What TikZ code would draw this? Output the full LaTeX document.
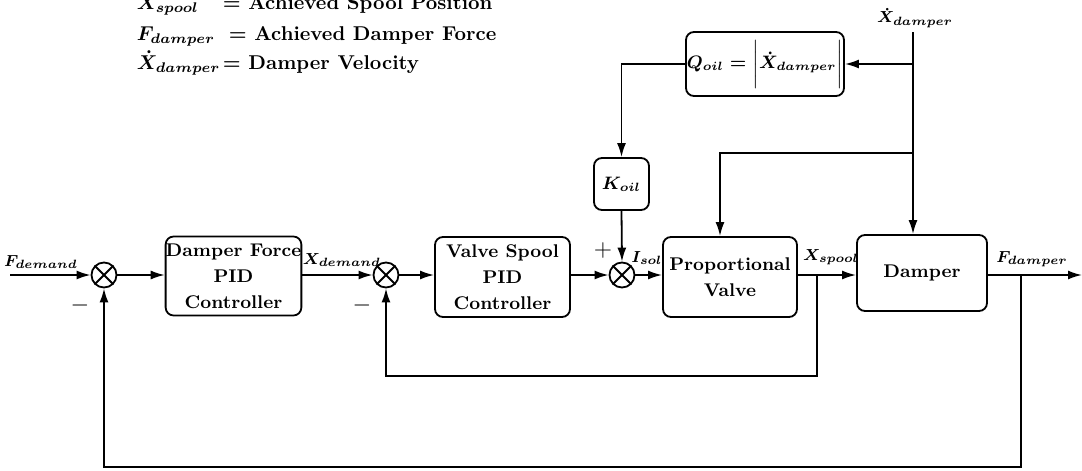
\documentclass[tikz,border=0pt]{standalone}
\usetikzlibrary{arrows.meta}
\begin{document}
\begin{tikzpicture}[x=0.5pt,y=-0.5pt, line width=0.9pt,
  >={Latex[length=7pt,width=4.5pt]},
  blk/.style={draw, rounded corners=4pt, align=center, inner sep=0pt,
    font=\fontsize{9.2}{13}\selectfont\bfseries\boldmath},
  sumc/.style={draw, circle, minimum size=12.5pt, inner sep=0pt},
  lbl/.style={font=\fontsize{8.3}{10}\selectfont\bfseries\boldmath, inner sep=0pt, anchor=base},
  sgn/.style={font=\fontsize{12}{12}\selectfont\bfseries, inner sep=0pt},
  leg/.style={font=\fontsize{10}{12}\selectfont\bfseries\boldmath, inner sep=0pt, anchor=base west}]
\useasboundingbox (0,0) rectangle (1082,471);

% legend
\node[leg] (l1s) at (136,10) {$X_{spool}$};
\node[leg] (l1t) at (222,10) {$=$ Achieved Spool Position};
\node[leg] (l2s) at (136,40) {$F_{damper}$};
\node[leg] (l2t) at (228,40) {$=$ Achieved Damper Force};
\node[leg] (l3s) at (136,69) {$\dot{X}_{damper}$};
\node[leg] (l3t) at (222,69) {$=$ Damper Velocity};

% main row
\node[sumc] (s1) at (104,275) {};
\node[blk, minimum width=67.5pt, minimum height=39.5pt] (b1) at (233.5,276) {Damper Force\\PID\\Controller};
\node[sumc] (s2) at (386,275) {};
\node[blk, minimum width=67.5pt, minimum height=40pt] (b2) at (502.5,277) {Valve Spool\\PID\\Controller};
\node[sumc] (s3) at (622,275) {};
\node[blk, minimum width=67pt, minimum height=40pt] (b3) at (730,277) {Proportional\\Valve};
\node[blk, minimum width=65pt, minimum height=38pt] (b4) at (922,273) {Damper};
\node[blk, minimum width=27.5pt, minimum height=26pt] (k) at (621.5,184) {$K_{oil}$};
\node[blk, minimum width=79pt, minimum height=32pt] (q) at (765,64) {$Q_{oil}=\biggl|\dot{X}_{damper}\biggr|$};

\foreach \s in {s1,s2,s3}{
  \draw (\s.north west) -- (\s.south east) (\s.north east) -- (\s.south west);
}

% coordinates
\coordinate (in) at (10,275);
\coordinate (out) at (1082,275);
\coordinate (br1) at (817,275);
\coordinate (c1) at (817,376);
\coordinate (br2) at (1021,275);
\coordinate (c2) at (1021,467);
\coordinate (xd) at (913,32);
\coordinate (j1) at (913,64);
\coordinate (j2) at (913,153);
\coordinate (t3) at (720,153);

% connectors
\draw[->] (in) -- (s1.west);
\draw[->] (s1.east) -- (s1.east -| b1.west);
\draw[->] (b1.east |- s2.west) -- (s2.west);
\draw[->] (s2.east) -- (s2.east -| b2.west);
\draw[->] (b2.east |- s3.west) -- (s3.west);
\draw[->] (s3.east) -- (s3.east -| b3.west);
\draw[->] (b3.east |- br1) -- (br1 -| b4.west);
\draw[->] (br1 -| b4.east) -- (out);
\draw[->] (br1) -- (c1) -| (s2.south);
\draw[->] (br2) -- (c2) -| (s1.south);
\draw[->] (xd) -- (xd |- b4.north);
\draw[->] (j1) -- (q.east);
\draw[->] (j2) -- (t3) -- (t3 |- b3.north);
\draw[->] (q.west) -| (k.north);
\draw[->] (k.south) -- (s3.north);

% labels
\node[lbl] (lfd) at (41,266) {$F_{demand}$};
\node[lbl] (lxd) at (342,264) {$X_{demand}$};
\node[lbl] (lis) at (647,262) {$I_{sol}$};
\node[lbl] (lxs) at (831,260) {$X_{spool}$};
\node[lbl] (lfdp) at (1032,262) {$F_{damper}$};
\node[lbl] (lxdt) at (915,23) {$\dot{X}_{damper}$};
\node[sgn] (pl) at (603,250) {$+$};
\node[sgn] (m1) at (80,305) {$-$};
\node[sgn] (m2) at (362,305) {$-$};
\end{tikzpicture}
\end{document}
